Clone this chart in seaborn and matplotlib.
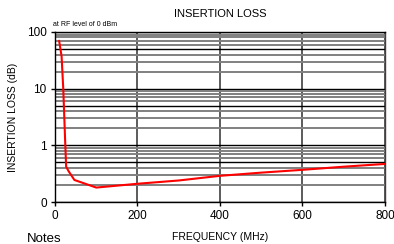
import matplotlib
matplotlib.use("Agg")
import matplotlib.pyplot as plt
import matplotlib.ticker as mticker
import seaborn as sns
import pandas as pd

freq_mhz = [10, 16, 20, 25, 27, 33, 47, 100, 200, 300, 400, 500, 600, 700, 800]
loss_db = [70, 37, 10, 1.0, 0.42, 0.35, 0.245, 0.18, 0.21, 0.24, 0.29, 0.33, 0.37, 0.42, 0.47]
x_ticks = [0, 200, 400, 600, 800]
y_ticks = [0.1, 1, 10, 100]
y_tick_labels = ["0", "1", "10", "100"]

sns.set_theme(style="white", rc={"text.color": "black", "axes.labelcolor": "black",
                                 "xtick.color": "black", "ytick.color": "black"})
plt.rcParams['font.family'] = ['Liberation Sans', 'DejaVu Sans']

fig = plt.figure(figsize=(3.94, 2.44), dpi=100)
ax = fig.add_axes([0.1396, 0.172, 0.8374, 0.697])

df = pd.DataFrame({"f": freq_mhz, "l": loss_db})

ax.set_yscale("log")
ax.set_xlim(0, 800)
ax.set_ylim(0.1, 100)

# grid
ax.yaxis.set_minor_locator(mticker.LogLocator(base=10, subs=[2, 3, 4, 6, 7, 8, 9]))
ax.yaxis.set_minor_formatter(mticker.NullFormatter())
ax.grid(which="minor", axis="y", color="#808080", lw=1.4)
ax.grid(which="major", axis="y", color="black", lw=1.0)
ax.grid(which="major", axis="x", color="#404040", lw=1.2)
for v in [0.5, 5, 50]:
    ax.axhline(v, color="black", lw=1.0, zorder=1)

sns.lineplot(data=df, x="f", y="l", color="red", lw=1.5, ax=ax, zorder=5)

ax.set_xticks(x_ticks)
ax.set_xticklabels([str(t) for t in x_ticks])
ax.set_yticks(y_ticks)
ax.set_yticklabels(y_tick_labels)
ax.tick_params(axis="both", which="major", labelsize=8.5, length=3, width=1,
               color="black", labelcolor="black", direction="out", pad=3,
               left=True, bottom=True)
ax.tick_params(axis="y", which="minor", length=0)

for s in ["left", "bottom", "top", "right"]:
    ax.spines[s].set_color("black")
    ax.spines[s].set_linewidth(1.0)
ax.spines["right"].set_color("#404040")

ax.set_xlabel("FREQUENCY (MHz)", fontsize=7.5, labelpad=7, color="black")
ax.set_ylabel("INSERTION LOSS (dB)", fontsize=7.5, labelpad=6, color="black")
ax.set_title("INSERTION LOSS", fontsize=8, pad=11, color="black")

fig.text(0.135, 0.893, "at RF level of 0 dBm", fontsize=5, color="black")
fig.text(0.068, 0.01, "Notes", fontsize=9.5, color="black")

fig.savefig("out.png", dpi=100)
